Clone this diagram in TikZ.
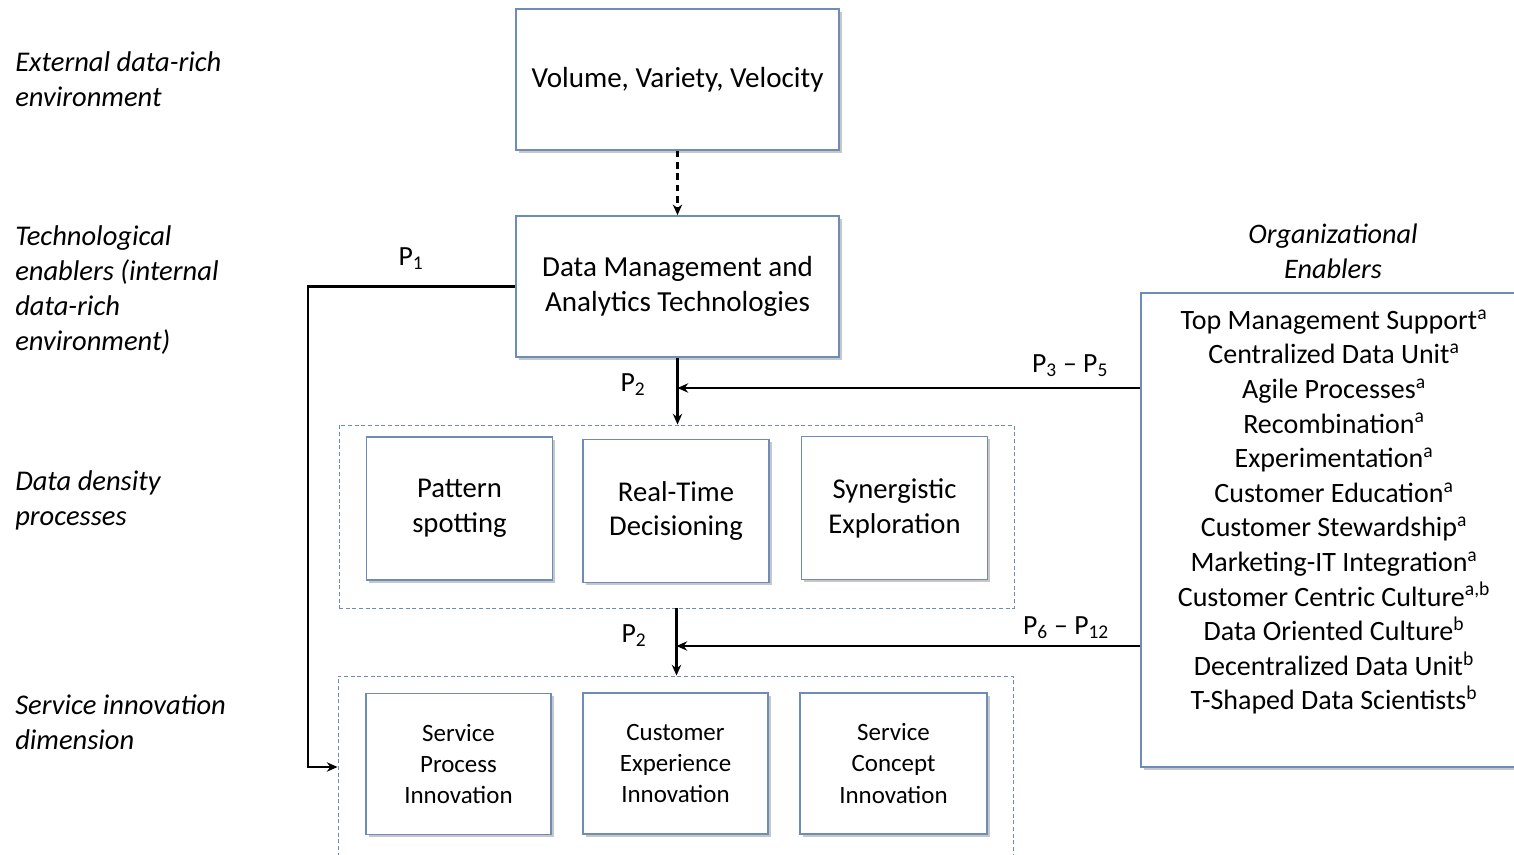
\documentclass[tikz,border=0pt]{standalone}
\usepackage{fontspec}
\setmainfont{Carlito}
\usetikzlibrary{shadows,arrows.meta}
\newdimen\pxu \pxu=0.75pt
\definecolor{boxblue}{RGB}{110,140,185}
\begin{document}
\begin{tikzpicture}[x=0.75pt,y=-0.75pt,
  box/.style={draw=boxblue, fill=white, line width=1.2pt, inner sep=0pt, align=center,
    drop shadow={shadow xshift=2.2pt, shadow yshift=-2.2pt, opacity=0.4, fill=black!55}},
  container/.style={draw=boxblue, line width=0.7pt, dash pattern=on 3pt off 2pt, inner sep=0pt},
  arr/.style={-{Stealth[length=8pt,width=7pt]}, line width=1.7pt},
  big/.style={font=\fontsize{21.8}{26.2}\selectfont},
  mid/.style={font=\fontsize{21.5}{26.2}\selectfont},
  small/.style={font=\fontsize{18.7}{23.5}\selectfont},
  side/.style={font=\fontsize{21.4}{26.2}\selectfont\itshape, align=left, anchor=west, inner sep=0pt},
  plabel/.style={font=\fontsize{20.8}{26}\selectfont, inner sep=0pt}
]
\clip (0,0) rectangle (1514,855);
\fill[white] (0,0) rectangle (1514,855);

% left side labels
\node[side] (l1) at (15,79) {External data-rich\\environment};
\node[side] (l2) at (15,290) {Technological\\enablers (internal\\data-rich\\environment)};
\node[side] (l3) at (15,500) {Data density\\processes};
\node[side] (l4) at (15,722) {Service innovation\\dimension};

% top boxes
\node[box, big, minimum width=323*\pxu, minimum height=141*\pxu] (vvv) at (677.5,79.5) {Volume, Variety, Velocity};
\node[box, big, minimum width=323*\pxu, minimum height=141*\pxu] (dmat) at (677.5,286.5) {Data Management and\\Analytics Technologies};

% containers
\node[container, minimum width=675*\pxu, minimum height=183*\pxu] (c1) at (676.5,516.5) {};
\node[container, minimum width=675*\pxu, minimum height=200*\pxu] (c2) at (675.5,776) {};

% data density boxes
\node[box, mid, minimum width=186*\pxu, minimum height=143*\pxu] (ps) at (459.5,508.5) {Pattern\\spotting};
\node[box, mid, minimum width=186*\pxu, minimum height=143*\pxu] (rt) at (676,511) {Real-Time\\Decisioning};
\node[box, mid, minimum width=186*\pxu, minimum height=143*\pxu] (se) at (894.5,508) {Synergistic\\Exploration};

% service innovation boxes
\node[box, small, minimum width=185*\pxu, minimum height=141*\pxu] (spi) at (458.5,764) {Service\\Process\\Innovation};
\node[box, small, minimum width=185*\pxu, minimum height=141*\pxu] (cei) at (675.5,763.5) {Customer\\Experience\\Innovation};
\node[box, small, minimum width=187*\pxu, minimum height=141*\pxu] (sci) at (893.5,763.5) {Service\\Concept\\Innovation};

% organizational enablers
\node[font=\fontsize{21.2}{26.2}\selectfont\itshape, align=center, inner sep=0pt] (orgtitle) at (1333,251) {Organizational\\Enablers};
\node[box, minimum width=390*\pxu, minimum height=474*\pxu] (org) at (1336,530) {};
\node[font=\fontsize{21}{25.95}\selectfont, align=center, inner sep=0pt] (orgtext) at (1334,512) {%
Top Management Support\textsuperscript{a}\\
Centralized Data Unit\textsuperscript{a}\\
Agile Processes\textsuperscript{a}\\
Recombination\textsuperscript{a}\\
Experimentation\textsuperscript{a}\\
Customer Education\textsuperscript{a}\\
Customer Stewardship\textsuperscript{a}\\
Marketing-IT Integration\textsuperscript{a}\\
Customer Centric Culture\textsuperscript{a,b}\\
Data Oriented Culture\textsuperscript{b}\\
Decentralized Data Unit\textsuperscript{b}\\
T-Shaped Data Scientists\textsuperscript{b}};

% connectors
\draw[arr, dash pattern=on 5pt off 3.5pt] (vvv.south) -- (dmat.north);
\draw[arr] (dmat.west) -- (308,286.5) -- (308,767) -- (c2.west |- 0,767);
\draw[arr] (dmat.south) -- (dmat.south |- c1.north);
\draw[arr] (org.west |- 0,388) -- (dmat.south |- 0,388);
\draw[arr] (c1.south) -- (c1.south |- c2.north);
\draw[arr] (org.west |- 0,646) -- (c1.south |- 0,646);

% proposition labels
\node[plabel] (p1) at (411,259) {P\textsubscript{1}};
\node[plabel] (p2a) at (633,385) {P\textsubscript{2}};
\node[plabel] (p35) at (1070,366) {P\textsubscript{3} – P\textsubscript{5}};
\node[plabel] (p2b) at (634,636) {P\textsubscript{2}};
\node[plabel] (p612) at (1066,628) {P\textsubscript{6} – P\textsubscript{12}};
\end{tikzpicture}
\end{document}
